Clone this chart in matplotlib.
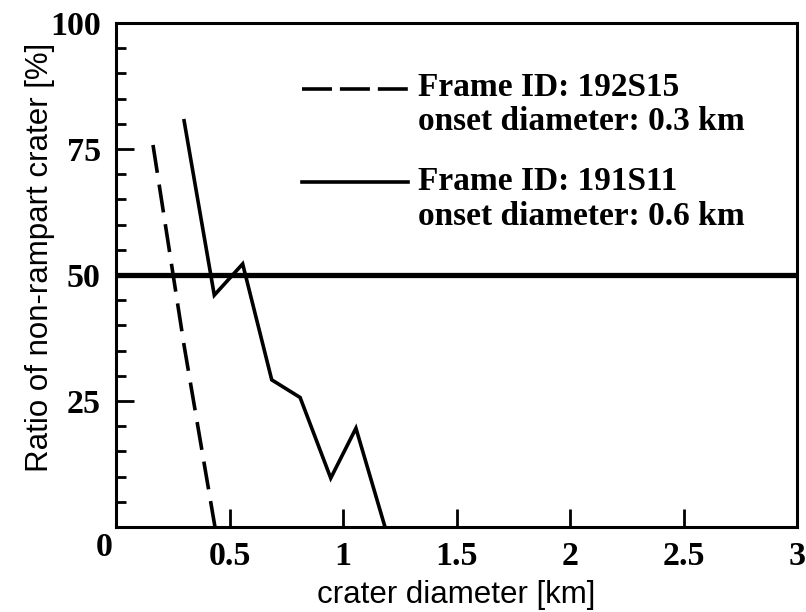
import matplotlib
matplotlib.use("Agg")
import matplotlib.pyplot as plt
from matplotlib.ticker import MultipleLocator, FixedLocator

# ---- data ----
x_192S15 = [0.163, 0.30, 0.436]
y_192S15 = [75.8, 36.0, 0.0]

x_191S11 = [0.300, 0.433, 0.558, 0.686, 0.811, 0.946, 1.057, 1.185]
y_191S11 = [80.6, 46.0, 52.2, 29.2, 25.7, 9.7, 19.6, 0.0]

threshold = 50
x_ticks = [0.5, 1, 1.5, 2, 2.5, 3]
x_ticklabels = ["0.5", "1", "1.5", "2", "2.5", "3"]
y_ticks = [25, 50, 75, 100]
y_ticklabels = ["25", "50", "75", "100"]

legend_1 = ["Frame ID: 192S15", "onset diameter: 0.3 km"]
legend_2 = ["Frame ID: 191S11", "onset diameter: 0.6 km"]

serif = "Liberation Serif"
sans = "Liberation Sans"

fig = plt.figure(figsize=(8.06, 6.12), dpi=100)
ax = fig.add_axes([116/806, 85/612, 681/806, 504/612])

ax.set_xlim(0, 3)
ax.set_ylim(0, 100)

lw = 2.6
ax.plot(x_192S15, y_192S15, color="black", lw=lw, dashes=(7.8, 3.3),
        dash_capstyle="butt", solid_capstyle="butt")
ax.plot(x_191S11, y_191S11, color="black", lw=lw, solid_joinstyle="miter")
ax.axhline(threshold, color="black", lw=3.8)

for s in ax.spines.values():
    s.set_linewidth(2.2)

ax.xaxis.set_major_locator(FixedLocator(x_ticks))
ax.set_xticklabels(x_ticklabels)
ax.yaxis.set_major_locator(FixedLocator(y_ticks))
ax.set_yticklabels(y_ticklabels)
ax.yaxis.set_minor_locator(MultipleLocator(5))

ax.tick_params(axis="both", which="major", direction="in", length=13, width=2)
ax.tick_params(axis="y", which="minor", direction="in", length=7, width=2)
ax.tick_params(axis="x", which="major", pad=10)
ax.tick_params(axis="y", which="major", pad=11)
for lab in ax.get_xticklabels() + ax.get_yticklabels():
    lab.set_fontfamily(serif)
    lab.set_fontweight("bold")
    lab.set_fontsize(24.5)

# shared origin label
ax.annotate("0", xy=(0, 0), xycoords="data", xytext=(-12, -21),
            textcoords="offset pixels", ha="center", va="center",
            fontfamily=serif, fontweight="bold", fontsize=24.5)

ax.set_xlabel("crater diameter [km]", fontfamily=sans, fontsize=22.5)
ax.xaxis.set_label_coords(0.5, -0.105)
ax.set_ylabel("Ratio of non-rampart crater [%]", fontfamily=sans, fontsize=22.5)
ax.yaxis.set_label_coords(-0.09, 0.535)

# legend drawn by hand
tr = ax.transAxes
ax.plot([0.273, 0.429], [0.869, 0.869], transform=tr, color="black", lw=lw,
        dashes=(8.3, 2.2), dash_capstyle="butt")
ax.plot([0.273, 0.429], [0.685, 0.685], transform=tr, color="black", lw=lw)
tx = 0.4435
for txt, yb in zip(legend_1 + legend_2, [0.855, 0.788, 0.669, 0.599]):
    ax.text(tx, yb, txt, transform=tr, ha="left", va="baseline",
            fontfamily=serif, fontweight="bold", fontsize=24)

fig.savefig("out.png", dpi=100)
